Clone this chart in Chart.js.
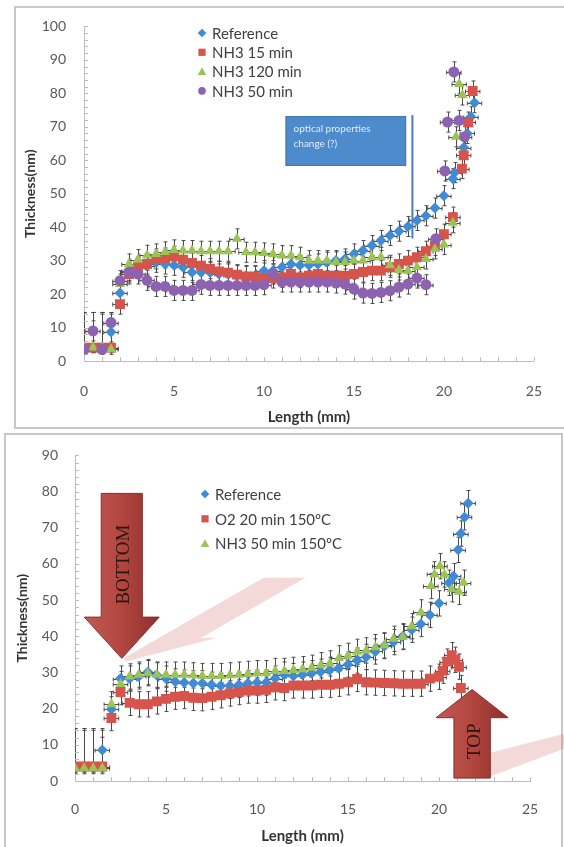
<!DOCTYPE html>
<html>
<head>
<meta charset="utf-8">
<script src="https://cdn.jsdelivr.net/npm/chart.js@4.4.1/dist/chart.umd.min.js"></script>
<style>
  html, body { margin: 0; padding: 0; background: #fff; }
  body { width: 564px; height: 847px; position: relative; overflow: hidden; }
  canvas { position: absolute; left: 0; }
  #topChart { top: 0; }
  #bottomChart { top: 430px; }
  .frame { position: absolute; border: 2px solid #c8c8c8; pointer-events: none; }
  #topFrame { left: 14px; top: 6px; width: 560px; height: 419px; border-right: none; }
  #bottomFrame { left: 4px; top: 433px; width: 555px; height: 430px; border-bottom: none; }
</style>
</head>
<body>
<div class="frame" id="topFrame"></div>
<div class="frame" id="bottomFrame"></div>
<canvas id="topChart" width="564" height="430"></canvas>
<canvas id="bottomChart" width="564" height="417"></canvas>
<script>
// positions along the sample, one point every 0.5 mm up to 19 mm
const baseX = [0,0.5,1,1.5,2,2.5,3,3.5,4,4.5,5,5.5,6,6.5,7,7.5,8,8.5,9,9.5,10,10.5,11,11.5,12,12.5,13,13.5,14,14.5,15,15.5,16,16.5,17,17.5,18,18.5,19];

// ---- top chart ----
const topLabels = ['Reference', 'NH3 15 min', 'NH3 120 min', 'NH3 50 min'];
const topRefX = baseX.concat([19.5,20,20.5,20.6,21.1,21.3,21.5,21.7]);
const topRefY = [4,4,4,8.7,20.3,27,28,28.5,29.5,29,28.6,28,26.5,26.5,26.5,26,26,25.5,25.5,25.5,27,27,28,29,28.6,28.6,29,29.5,30,30.5,32,33,34.5,36,37.5,38.8,40.2,42,43.4,45.7,49.4,54.5,56.3,63.8,68,73,77.2];
const topRedX = baseX.concat([19.5,20,20.5,21.0,21.1,21.35,21.6]);
const topRedY = [4,4,4,4,17,26,28,29,30.5,30.8,31.3,30.3,29.3,28.5,27.6,26.8,26.4,25.8,25.3,25.3,24.8,24.8,25,26,25,25.5,26,25.5,25.5,25.5,26,26.6,27,27,28,29,30,31,32.8,34.5,37.9,43,57.5,61.5,71.4,80.7];
const topGreenX = baseX.concat([19.5,20,20.5,20.67,20.85,21.03]);
const topGreenY = [4,4,4,3.5,23,29,30.3,31.6,32,32.6,33.2,33,33,32.8,32.8,32.8,32.8,36.5,32.5,32.5,32.3,32,31.5,31.5,31,30,30,30,29.6,29.6,30,30,31,31,28.6,27.2,27,28,30.5,33.5,34.8,41.3,67,82.8,79.5];
const topPurpleX = baseX.concat([19.55,20.05,20.2,20.55,20.85,21.15]);
const topPurpleY = [3.5,9,3.5,11.5,24,26.6,26,24.1,22.3,22.3,21.1,21.1,21.1,22.9,22.6,22.6,22.6,22.6,22.6,22.6,22.8,26,23.6,23.6,23.6,23.6,23.6,23.6,23.3,23,21.5,20.3,20.2,20.5,21,22.1,23,24.8,22.8,36.5,56.8,71.4,86.4,71.9,67];

// ---- bottom chart ----
const bottomLabels = ['Reference', 'O2 20 min 150ºC', 'NH3 50 min 150ºC'];
const botRefX = baseX.concat([19.5,20,20.55,20.8,21.05,21.2,21.4,21.6]);
const botRefY = [4,4,4,8.6,19.8,28.3,28.3,28.9,30.1,29.2,28.3,27.5,27.2,27,27,26.6,26.3,26.3,26.6,27,27.2,27.2,28.3,29.4,29,29.4,29.8,30.2,30.7,31.2,32.2,33.3,34.3,35.8,37.3,38.4,40,41.8,43.4,45.9,49.1,54.8,56.6,63.9,68.4,72.9,76.8];
const botRedX = baseX.concat([19.5,20,20.2,20.45,20.7,20.9,21.1,21.2]);
const botRedY = [4,4,4,4,17.4,24.6,21.6,21.2,21.2,22,22.7,23.3,23.5,23,22.9,23.3,23.7,24.2,24.6,25,25,25.2,25.9,25.7,26.4,26.4,26.4,26.6,26.6,26.9,27.3,28.2,27.3,27.2,27.1,27,26.9,26.9,26.9,28.3,28.8,30.5,33,34.8,33.5,31.6,25.7];
const botGreenX = baseX.concat([19.55,19.75,20.05,20.3,20.7,21.1,21.35]);
const botGreenY = [3.5,3.5,3.5,3.5,21.2,26.8,28.9,29.4,29.8,29.4,29.4,29.4,29.4,29.2,29,29,29,29.2,29.4,29.6,29.8,29.8,30.4,30.4,30.7,30.9,31.3,32,32.5,33.9,34.6,35.7,36.1,37,37.5,39.3,39.8,42.8,46.6,53.9,57.1,59.4,57.1,53,52.3,54.8];

// axes
const xMax = 25, xStep = 5;
const topYMax = 100, bottomYMax = 90, yStep = 10;

// annotation / arrows, in data units
const opticalBox = { x0: 11.2, x1: 17.9, y0: 58.3, y1: 73.2, lineX: 18.25, lineY0: 73.5, lineY1: 36.6 };
const bottomArrow = { cx: 2.57, shaft: 1.13, head: 2.06, tail: 79.5, base: 45.3, tip: 33.9, text: 'BOTTOM', tx: 2.72, ty: 59.8 };
const topArrow = { cx: 21.82, shaft: 1.0, head: 1.98, tail: 0.8, base: 17.5, tip: 25.3, text: 'TOP', tx: 21.98, ty: 11 };
const bottomShadow = [[2.66,33.9],[10.37,56.2],[12.66,56.2],[6.9,39.5],[7.8,39.6],[2.8,33]];
const topShadow = [[22,3],[22.88,7.9],[26.9,13.1],[26.9,9.0],[22.88,1.4],[22,1]];

const colors = { ref: '#3F8BD6', red: '#D6544B', green: '#9CC356', purple: '#8D62B0' };
const FONT = 'Lato';

function pts(xs, ys) {
    return xs.map((x, i) => ({ x: x, y: ys[i] }));
}

function dataset(label, xs, ys, color, style, radius, order) {
    return {
        label: label,
        data: pts(xs, ys),
        showLine: false,
        pointStyle: style,
        pointRadius: radius,
        pointBackgroundColor: color,
        pointBorderColor: color,
        pointBorderWidth: 0,
        order: order
    };
}

function drawMarker(ctx, style, x, y, r) {
    ctx.beginPath();
    if (style === 'rectRot') {
        ctx.moveTo(x, y - r); ctx.lineTo(x + r, y); ctx.lineTo(x, y + r); ctx.lineTo(x - r, y);
    } else if (style === 'rect') {
        ctx.rect(x - r, y - r, 2 * r, 2 * r);
    } else if (style === 'triangle') {
        ctx.moveTo(x, y - r); ctx.lineTo(x + r, y + r * 0.8); ctx.lineTo(x - r, y + r * 0.8);
    } else {
        ctx.arc(x, y, r, 0, Math.PI * 2);
    }
    ctx.closePath();
    ctx.fill();
}

// error bars in x and y, drawn under the markers and kept inside the plot
const errorBars = {
    id: 'errorBars',
    beforeDatasetsDraw(chart, args, opts) {
        const { ctx, chartArea: a, scales: { x, y } } = chart;
        ctx.save();
        ctx.beginPath();
        ctx.rect(a.left, a.top - 10, a.right - a.left, a.bottom - a.top + 10);
        ctx.clip();
        ctx.strokeStyle = opts.color;
        ctx.lineWidth = 1;
        ctx.beginPath();
        chart.data.datasets.forEach(ds => {
            ds.data.forEach(p => {
                const low = p.y < opts.lowLimit;
                const up = low ? opts.lowUp : opts.yErr;
                const down = low ? opts.lowDown : opts.yErr;
                const px = Math.round(x.getPixelForValue(p.x)) + 0.5;
                const py = Math.round(y.getPixelForValue(p.y)) + 0.5;
                const yt = y.getPixelForValue(p.y + up);
                const yb = y.getPixelForValue(Math.max(0, p.y - down));
                const xl = x.getPixelForValue(p.x - opts.xErr);
                const xr = x.getPixelForValue(p.x + opts.xErr);
                ctx.moveTo(px, yt); ctx.lineTo(px, yb);
                ctx.moveTo(px - 2, yt); ctx.lineTo(px + 2, yt);
                ctx.moveTo(px - 2, yb); ctx.lineTo(px + 2, yb);
                ctx.moveTo(xl, py); ctx.lineTo(xr, py);
                ctx.moveTo(xl, py - 2); ctx.lineTo(xl, py + 2);
                ctx.moveTo(xr, py - 2); ctx.lineTo(xr, py + 2);
            });
        });
        ctx.stroke();
        ctx.restore();
    }
};

// small tick marks inside the axes
const axisTicks = {
    id: 'axisTicks',
    beforeDatasetsDraw(chart, args, opts) {
        const { ctx, chartArea: a, scales: { x, y } } = chart;
        ctx.save();
        ctx.strokeStyle = opts.color;
        ctx.lineWidth = 1;
        ctx.beginPath();
        for (let v = y.min; v <= y.max + 1e-9; v += opts.yStep) {
            const py = Math.round(y.getPixelForValue(v)) + 0.5;
            ctx.moveTo(a.left, py); ctx.lineTo(a.left + opts.len, py);
        }
        for (let v = x.min; v <= x.max + 1e-9; v += opts.xStep) {
            const px = Math.round(x.getPixelForValue(v)) + 0.5;
            ctx.moveTo(px, a.bottom); ctx.lineTo(px, a.bottom - opts.len);
        }
        ctx.stroke();
        ctx.restore();
    }
};

// legend sitting inside the plot area
const innerLegend = {
    id: 'innerLegend',
    afterDraw(chart, args, opts) {
        const ctx = chart.ctx;
        ctx.save();
        ctx.font = opts.size + 'px ' + FONT;
        ctx.textBaseline = 'middle';
        chart.data.datasets.forEach((ds, i) => {
            const y = opts.y + i * opts.row;
            ctx.fillStyle = ds.pointBackgroundColor;
            const r = ds.pointStyle === 'rect' ? 3.6 : (ds.pointStyle === 'circle' ? 3.8 : 4.3);
            drawMarker(ctx, ds.pointStyle, opts.x, y, r);
            ctx.fillStyle = '#404040';
            ctx.fillText(ds.label, opts.textX, y + 1);
        });
        ctx.restore();
    }
};

// "optical properties change (?)" box of the top chart
const topNote = {
    id: 'topNote',
    afterDatasetsDraw(chart) {
        const { ctx, scales: { x, y } } = chart;
        const b = opticalBox;
        const l = x.getPixelForValue(b.x0), r = x.getPixelForValue(b.x1);
        const t = y.getPixelForValue(b.y1), btm = y.getPixelForValue(b.y0);
        ctx.save();
        ctx.fillStyle = '#4E8BCC';
        ctx.fillRect(l, t, r - l, btm - t);
        ctx.strokeStyle = '#3F78B5';
        ctx.lineWidth = 1;
        ctx.strokeRect(l + 0.5, t + 0.5, r - l - 1, btm - t - 1);
        ctx.fillStyle = '#E4ECF7';
        ctx.font = '10px ' + FONT;
        ctx.textBaseline = 'middle';
        ctx.fillText('optical properties', l + 8, t + 13);
        ctx.fillText('change (?)', l + 8, t + 28);
        const lx = x.getPixelForValue(b.lineX);
        ctx.strokeStyle = '#4A7EBB';
        ctx.lineWidth = 2;
        ctx.beginPath();
        ctx.moveTo(lx, y.getPixelForValue(b.lineY0));
        ctx.lineTo(lx, y.getPixelForValue(b.lineY1));
        ctx.stroke();
        ctx.restore();
    }
};

function shadowPath(ctx, x, y, poly) {
    ctx.beginPath();
    poly.forEach((p, i) => {
        const px = x.getPixelForValue(p[0]), py = y.getPixelForValue(p[1]);
        if (i === 0) ctx.moveTo(px, py); else ctx.lineTo(px, py);
    });
    ctx.closePath();
}

function drawArrow(ctx, x, y, a) {
    const cx = x.getPixelForValue(a.cx);
    const sL = x.getPixelForValue(a.cx - a.shaft), sR = x.getPixelForValue(a.cx + a.shaft);
    const hL = x.getPixelForValue(a.cx - a.head), hR = x.getPixelForValue(a.cx + a.head);
    const tail = y.getPixelForValue(a.tail), base = y.getPixelForValue(a.base), tip = y.getPixelForValue(a.tip);
    const g = ctx.createLinearGradient(hL, 0, hR, 0);
    g.addColorStop(0, '#C25A56');
    g.addColorStop(0.5, '#B2463F');
    g.addColorStop(1, '#8C2F2C');
    ctx.fillStyle = g;
    ctx.strokeStyle = '#8A2C29';
    ctx.lineWidth = 1;
    ctx.beginPath();
    ctx.moveTo(sL, tail); ctx.lineTo(sR, tail); ctx.lineTo(sR, base); ctx.lineTo(hR, base);
    ctx.lineTo(cx, tip); ctx.lineTo(hL, base); ctx.lineTo(sL, base);
    ctx.closePath();
    ctx.fill();
    ctx.stroke();
    ctx.save();
    ctx.translate(x.getPixelForValue(a.tx), y.getPixelForValue(a.ty));
    ctx.rotate(-Math.PI / 2);
    ctx.fillStyle = '#2B1412';
    ctx.font = '19px "Liberation Serif"';
    ctx.textAlign = 'center';
    ctx.textBaseline = 'middle';
    ctx.fillText(a.text, 0, 0);
    ctx.restore();
}

// red arrows and their pale shadows of the bottom chart
const bottomNote = {
    id: 'bottomNote',
    beforeDatasetsDraw(chart) {
        const { ctx, scales: { x, y } } = chart;
        ctx.save();
        [bottomShadow, topShadow].forEach(poly => {
            shadowPath(ctx, x, y, poly);
            ctx.fillStyle = 'rgba(214,120,118,0.28)';
            ctx.fill();
        });
        ctx.restore();
    },
    afterDatasetsDraw(chart) {
        const { ctx, scales: { x, y } } = chart;
        ctx.save();
        drawArrow(ctx, x, y, bottomArrow);
        drawArrow(ctx, x, y, topArrow);
        ctx.restore();
    }
};

function buildOptions(o) {
    return {
        responsive: false,
        animation: false,
        events: [],
        layout: { padding: { top: o.areaTop, right: o.padRight, left: 0, bottom: 0 } },
        plugins: {
            legend: { display: false },
            tooltip: { enabled: false },
            errorBars: { color: '#4a4a4a', xErr: 0.4, yErr: o.yErr, lowLimit: 5, lowUp: 10.5, lowDown: 1.5 },
            axisTicks: { color: '#bdbdbd', len: 4, xStep: 1, yStep: 2 },
            innerLegend: o.legend
        },
        scales: {
            x: {
                type: 'linear', min: 0, max: xMax,
                ticks: { stepSize: xStep, color: '#595959', font: { family: FONT, size: 14 }, padding: o.xTickPad, maxRotation: 0 },
                grid: { display: false, drawTicks: false },
                border: { display: true, color: '#bdbdbd', width: 1 },
                title: { display: true, text: 'Length (mm)', color: '#333', font: { family: FONT, size: 15, weight: 'bold' }, padding: { top: 0, bottom: o.xTitlePad } },
                afterFit: s => { s.height = o.xAxisH; }
            },
            y: {
                type: 'linear', min: 0, max: o.yMax,
                ticks: { stepSize: yStep, color: '#595959', font: { family: FONT, size: 14 }, padding: o.yTickPad },
                grid: { display: false, drawTicks: false },
                border: { display: true, color: '#bdbdbd', width: 1 },
                title: { display: true, text: 'Thickness(nm)', color: '#333', font: { family: FONT, size: 14, weight: 'bold' }, padding: { top: o.yTitlePad, bottom: 0 } },
                afterFit: s => { s.width = o.yAxisW; }
            }
        }
    };
}

new Chart(document.getElementById('topChart'), {
    type: 'scatter',
    data: {
        datasets: [
            dataset(topLabels[0], topRefX, topRefY, colors.ref, 'rectRot', 5.5, 4),
            dataset(topLabels[1], topRedX, topRedY, colors.red, 'rect', 7, 3),
            dataset(topLabels[2], topGreenX, topGreenY, colors.green, 'triangle', 6, 2),
            dataset(topLabels[3], topPurpleX, topPurpleY, colors.purple, 'circle', 5.5, 1)
        ]
    },
    options: buildOptions({
        areaTop: 25, padRight: 26, yMax: topYMax, yErr: 3,
        xAxisH: 69, xTickPad: 22, xTitlePad: 4,
        yAxisW: 84, yTickPad: 18, yTitlePad: 22,
        legend: { x: 202, textX: 212, y: 33, row: 19.3, size: 15 }
    }),
    plugins: [errorBars, axisTicks, innerLegend, topNote]
});

new Chart(document.getElementById('bottomChart'), {
    type: 'scatter',
    data: {
        datasets: [
            dataset(bottomLabels[0], botRefX, botRefY, colors.ref, 'rectRot', 5.5, 3),
            dataset(bottomLabels[1], botRedX, botRedY, colors.red, 'rect', 7, 2),
            dataset(bottomLabels[2], botGreenX, botGreenY, colors.green, 'triangle', 6, 1)
        ]
    },
    options: buildOptions({
        areaTop: 21, padRight: 34, yMax: bottomYMax, yErr: 3.5,
        xAxisH: 66, xTickPad: 20, xTitlePad: 2,
        yAxisW: 75, yTickPad: 17, yTitlePad: 14,
        legend: { x: 205, textX: 215, y: 64, row: 24.8, size: 15 }
    }),
    plugins: [errorBars, axisTicks, innerLegend, bottomNote]
});
</script>
</body>
</html>
